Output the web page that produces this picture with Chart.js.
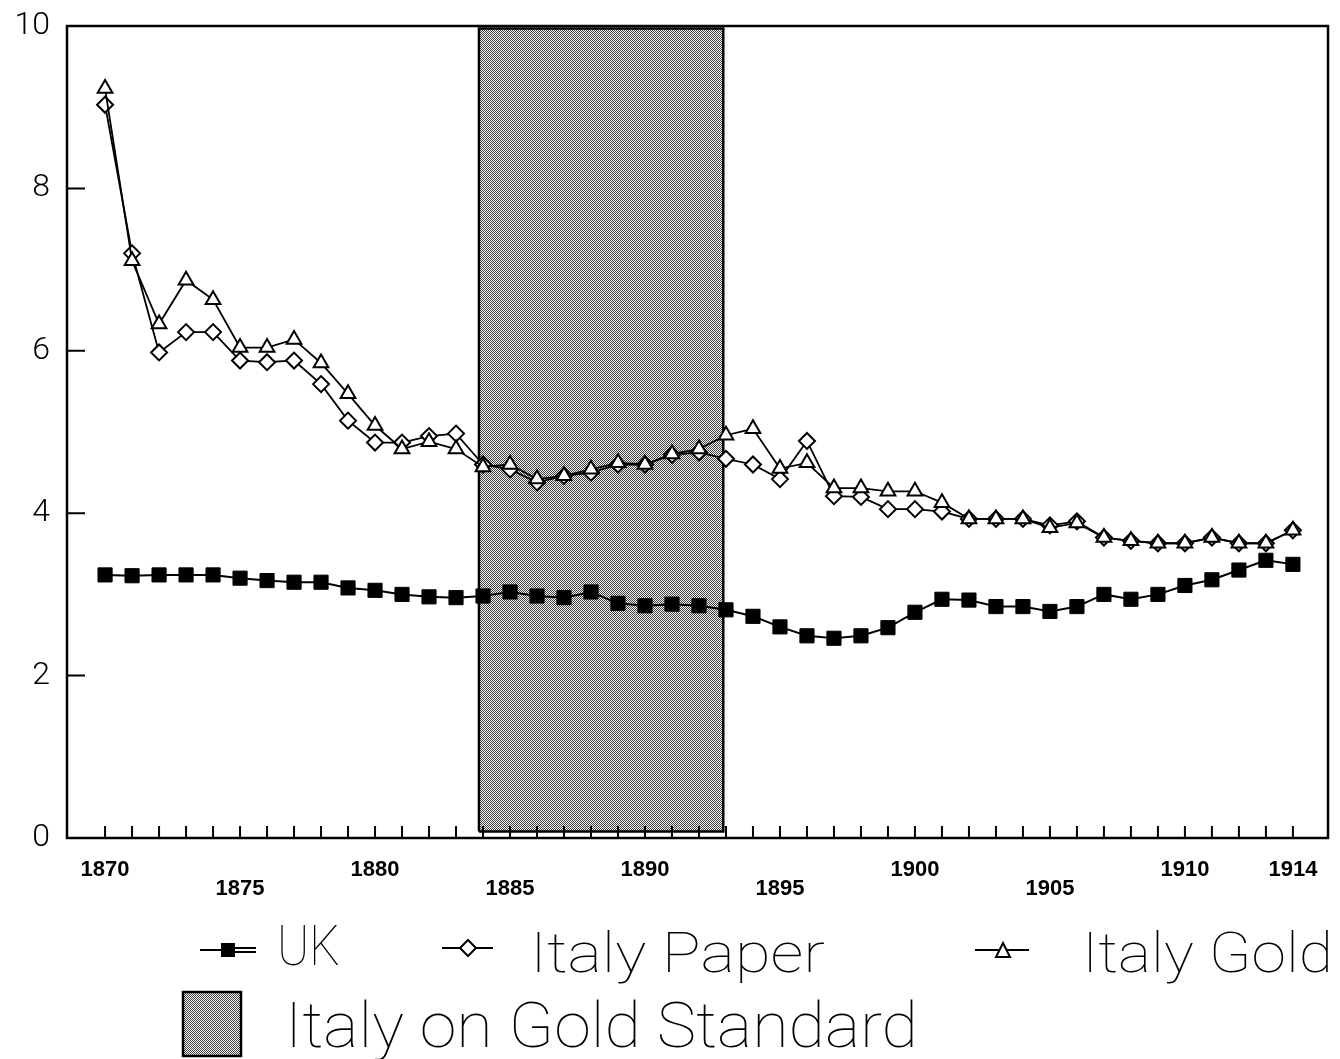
<!DOCTYPE html>
<html>
<head>
<meta charset="utf-8">
<script src="https://cdn.jsdelivr.net/npm/chart.js@4.4.1/dist/chart.umd.min.js"></script>
<style>
  html, body { margin: 0; padding: 0; background: #fff; }
  #wrap { width: 1340px; height: 1059px; position: relative; }
</style>
</head>
<body>
<div id="wrap"><canvas id="rateChart" width="1340" height="1059"></canvas></div>
<script>
// years on the x axis
const years = [1870, 1871, 1872, 1873, 1874, 1875, 1876, 1877, 1878, 1879,
               1880, 1881, 1882, 1883, 1884, 1885, 1886, 1887, 1888, 1889,
               1890, 1891, 1892, 1893, 1894, 1895, 1896, 1897, 1898, 1899,
               1900, 1901, 1902, 1903, 1904, 1905, 1906, 1907, 1908, 1909,
               1910, 1911, 1912, 1913, 1914];

// series
const ukYield = [3.24, 3.23, 3.24, 3.24, 3.24, 3.20, 3.17, 3.15, 3.15, 3.08,
                 3.05, 3.00, 2.97, 2.96, 2.98, 3.03, 2.98, 2.96, 3.03, 2.89,
                 2.86, 2.88, 2.86, 2.81, 2.73, 2.60, 2.49, 2.46, 2.49, 2.59,
                 2.78, 2.94, 2.93, 2.85, 2.85, 2.79, 2.85, 3.00, 2.94, 3.00,
                 3.11, 3.18, 3.30, 3.42, 3.37];
const italyPaper = [9.03, 7.20, 5.98, 6.23, 6.23, 5.88, 5.86, 5.88, 5.59, 5.14,
                    4.87, 4.87, 4.95, 4.98, 4.60, 4.54, 4.38, 4.46, 4.50, 4.60,
                    4.60, 4.72, 4.75, 4.67, 4.60, 4.42, 4.89, 4.21, 4.20, 4.05,
                    4.05, 4.02, 3.93, 3.93, 3.93, 3.85, 3.90, 3.70, 3.66, 3.63,
                    3.63, 3.70, 3.63, 3.63, 3.79];
const italyGold = [9.23, 7.11, 6.33, 6.87, 6.63, 6.04, 6.04, 6.14, 5.85, 5.47,
                   5.08, 4.79, 4.88, 4.79, 4.57, 4.60, 4.42, 4.46, 4.54, 4.62,
                   4.60, 4.73, 4.79, 4.96, 5.04, 4.55, 4.62, 4.31, 4.31, 4.27,
                   4.27, 4.13, 3.93, 3.93, 3.93, 3.82, 3.88, 3.70, 3.66, 3.63,
                   3.63, 3.70, 3.63, 3.63, 3.79];

// shaded period (Italy on the gold standard)
const goldStandardSpan = [1883.85, 1892.9];
const shadeRange = [0.08, 9.97];

// tick labels
const yTicks = [0, 2, 4, 6, 8, 10];
const upperYearLabels = [1870, 1880, 1890, 1900, 1910, 1914];
const lowerYearLabels = [1875, 1885, 1895, 1905];
const legendLabels = ['UK', 'Italy Paper', 'Italy Gold', 'Italy on Gold Standard'];

// halftone-ish grey pattern for the shaded box
function makePattern() {
    const pc = document.createElement('canvas');
    pc.width = 2; pc.height = 2;
    const p = pc.getContext('2d');
    p.fillStyle = '#f4f4f4';
    p.fillRect(0, 0, 2, 2);
    p.fillStyle = '#444';
    p.fillRect(0, 0, 1, 1);
    p.fillRect(1, 1, 1, 1);
    return p.createPattern(pc, 'repeat');
}
const shadePattern = makePattern();

const toPoints = vals => years.map((yr, i) => ({ x: yr, y: vals[i] }));

// frame, inner ticks and legend
const framePlugin = {
    id: 'framePlugin',
    afterDraw(chart) {
        const { ctx, chartArea: a, scales } = chart;
        ctx.save();
        ctx.strokeStyle = '#000';
        ctx.lineWidth = 2.5;
        ctx.strokeRect(a.left, a.top, a.right - a.left, a.bottom - a.top);

        // ticks pointing into the plot
        ctx.lineWidth = 2;
        ctx.beginPath();
        years.forEach(yr => {
            const px = scales.x.getPixelForValue(yr);
            ctx.moveTo(px, a.bottom);
            ctx.lineTo(px, a.bottom - 12);
        });
        yTicks.slice(1, -1).forEach(v => {
            const py = scales.y.getPixelForValue(v);
            ctx.moveTo(a.left, py);
            ctx.lineTo(a.left + 18, py);
        });
        ctx.stroke();

        drawLegend(ctx);
        ctx.restore();
    }
};

function fitText(ctx, text, left, baseline, capH, width) {
    const size = capH / 0.711;
    ctx.font = '100 ' + size + 'px Roboto';
    const w = ctx.measureText(text).width;
    ctx.save();
    ctx.translate(left, baseline);
    ctx.scale(width / w, 1);
    ctx.fillStyle = '#000';
    ctx.textBaseline = 'alphabetic';
    ctx.fillText(text, 0, 0);
    ctx.restore();
}

function drawLegend(ctx) {
    ctx.strokeStyle = '#000';
    ctx.fillStyle = '#000';
    ctx.lineWidth = 2;

    // UK
    ctx.beginPath();
    ctx.moveTo(200, 950); ctx.lineTo(222, 950);
    ctx.moveTo(235, 948); ctx.lineTo(256, 948);
    ctx.moveTo(235, 952); ctx.lineTo(256, 952);
    ctx.stroke();
    ctx.fillRect(221, 943, 14, 14);
    fitText(ctx, legendLabels[0], 277, 965, 39, 63);

    // Italy Paper
    ctx.beginPath();
    ctx.moveTo(442, 948); ctx.lineTo(493, 948);
    ctx.stroke();
    ctx.beginPath();
    ctx.moveTo(468, 940); ctx.lineTo(476, 948); ctx.lineTo(468, 956); ctx.lineTo(460, 948); ctx.closePath();
    ctx.fillStyle = '#fff'; ctx.fill(); ctx.stroke();
    ctx.fillStyle = '#000';
    fitText(ctx, legendLabels[1], 530, 972, 39, 295);

    // Italy Gold
    ctx.beginPath();
    ctx.moveTo(975, 950); ctx.lineTo(1029, 950);
    ctx.stroke();
    ctx.beginPath();
    ctx.moveTo(1003, 943); ctx.lineTo(1010, 957); ctx.lineTo(996, 957); ctx.closePath();
    ctx.fillStyle = '#fff'; ctx.fill(); ctx.stroke();
    ctx.fillStyle = '#000';
    fitText(ctx, legendLabels[2], 1082, 972, 39, 251);

    // shaded box
    ctx.fillStyle = shadePattern;
    ctx.fillRect(183, 992, 58, 64);
    ctx.lineWidth = 2.5;
    ctx.strokeRect(183, 992, 58, 64);
    ctx.fillStyle = '#000';
    fitText(ctx, legendLabels[3], 285, 1047, 45, 633);
}

const ctx = document.getElementById('rateChart').getContext('2d');
const rateChart = new Chart(ctx, {
    type: 'line',
    data: {
        datasets: [
            {
                label: legendLabels[2],
                data: toPoints(italyGold),
                borderColor: '#000',
                borderWidth: 1.8,
                pointStyle: 'triangle',
                pointRadius: 8.5,
                pointBackgroundColor: '#fff',
                pointBorderColor: '#000',
                pointBorderWidth: 2,
                tension: 0
            },
            {
                label: legendLabels[1],
                data: toPoints(italyPaper),
                borderColor: '#000',
                borderWidth: 1.8,
                pointStyle: 'rectRot',
                pointRadius: 8,
                pointBackgroundColor: '#fff',
                pointBorderColor: '#000',
                pointBorderWidth: 2,
                tension: 0
            },
            {
                label: legendLabels[0],
                data: toPoints(ukYield),
                borderColor: '#000',
                borderWidth: 2,
                pointStyle: 'rect',
                pointRadius: 10,
                pointBackgroundColor: '#000',
                pointBorderColor: '#000',
                pointBorderWidth: 1,
                tension: 0
            },
            {
                // outline of the gold-standard box
                label: 'outline',
                data: [
                    { x: goldStandardSpan[0], y: shadeRange[0] },
                    { x: goldStandardSpan[0], y: shadeRange[1] },
                    { x: goldStandardSpan[1], y: shadeRange[1] },
                    { x: goldStandardSpan[1], y: shadeRange[0] },
                    { x: goldStandardSpan[0], y: shadeRange[0] }
                ],
                borderColor: '#000',
                borderWidth: 2.5,
                pointRadius: 0,
                fill: false,
                tension: 0
            },
            {
                // the shaded fill itself
                label: legendLabels[3],
                data: [
                    { x: goldStandardSpan[0], y: shadeRange[1] },
                    { x: goldStandardSpan[1], y: shadeRange[1] }
                ],
                borderWidth: 0,
                borderColor: 'rgba(0,0,0,0)',
                backgroundColor: shadePattern,
                pointRadius: 0,
                fill: { value: shadeRange[0] },
                tension: 0
            }
        ]
    },
    options: {
        responsive: false,
        animation: false,
        events: [],
        layout: { padding: { left: 11, right: 12, top: 26, bottom: 161 } },
        plugins: {
            legend: { display: false },
            tooltip: { enabled: false }
        },
        scales: {
            x: {
                type: 'linear',
                min: 1868.59,
                max: 1915.3,
                grid: { display: false, drawTicks: false },
                border: { display: false },
                afterFit: s => {
                    s.height = 60;
                    s.paddingLeft = 0; s.paddingRight = 0;
                },
                ticks: {
                    stepSize: 1,
                    autoSkip: false,
                    maxRotation: 0,
                    includeBounds: false,
                    padding: 23,
                    color: '#000',
                    font: { family: 'Liberation Sans', size: 22, weight: 'bold', lineHeight: 0.85 },
                    callback: v => {
                        if (upperYearLabels.includes(v)) return [String(v), ''];
                        if (lowerYearLabels.includes(v)) return ['', String(v)];
                        return '';
                    }
                }
            },
            y: {
                min: 0,
                max: 10,
                grid: { display: false, drawTicks: false },
                border: { display: false },
                afterFit: s => {
                    s.width = 56;
                    s.paddingTop = 0; s.paddingBottom = 0;
                },
                afterBuildTicks: s => { s.ticks = yTicks.map(v => ({ value: v })); },
                ticks: {
                    padding: 17,
                    color: '#000',
                    font: { family: 'Roboto', size: 32, weight: '300' }
                }
            }
        }
    },
    plugins: [framePlugin]
});
</script>
</body>
</html>
